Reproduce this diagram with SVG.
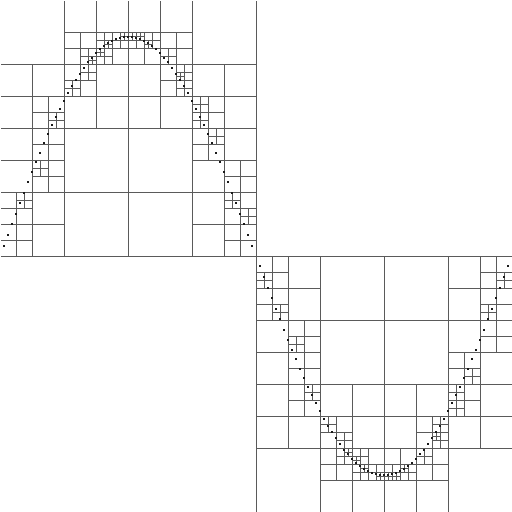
<svg xmlns="http://www.w3.org/2000/svg" width="512" height="512" viewBox="0 0 512 512">
<style>
.cell{fill:none;stroke:#5a5a5a;stroke-width:1;shape-rendering:crispEdges}
.pt{fill:#1a1a1a;shape-rendering:crispEdges}
</style>
<rect width="512" height="512" fill="#fff"/>
<g id="quadtree-cells" transform="translate(0.5,0.5)">
<path class="cell" d="M256 0V512 M0 256H512
M128 0V256 M0 128H256
M64 0V128 M0 64H128
M96 0V64 M64 32H128
M80 32V64 M64 48H96
M88 48V64 M80 56H96
M92 56V64 M88 60H96
M112 32V64 M96 48H128
M104 32V48 M96 40H112
M108 40V48 M104 44H112
M104 48V64 M96 56H112
M100 48V56 M96 52H104
M120 32V48 M112 40H128
M124 32V40 M120 36H128
M32 64V128 M0 96H64
M48 96V128 M32 112H64
M56 112V128 M48 120H64
M96 64V128 M64 96H128
M80 64V96 M64 80H96
M88 64V80 M80 72H96
M72 80V96 M64 88H80
M192 0V128 M128 64H256
M160 0V64 M128 32H192
M144 32V64 M128 48H160
M136 32V48 M128 40H144
M132 32V40 M128 36H136
M140 32V40 M136 36H144
M152 32V48 M144 40H160
M148 40V48 M144 44H152
M176 32V64 M160 48H192
M168 48V64 M160 56H176
M160 64V128 M128 96H192
M176 64V96 M160 80H192
M184 64V80 M176 72H192
M180 72V80 M176 76H184
M184 80V96 M176 88H192
M224 64V128 M192 96H256
M208 96V128 M192 112H224
M200 96V112 M192 104H208
M200 112V128 M192 120H208
M64 128V256 M0 192H128
M32 128V192 M0 160H64
M48 128V160 M32 144H64
M48 160V192 M32 176H64
M40 160V176 M32 168H48
M32 192V256 M0 224H64
M16 192V224 M0 208H32
M24 192V208 M16 200H32
M16 224V256 M0 240H32
M192 128V256 M128 192H256
M224 128V192 M192 160H256
M208 128V160 M192 144H224
M216 128V144 M208 136H224
M240 160V192 M224 176H256
M224 192V256 M192 224H256
M240 192V224 M224 208H256
M232 192V208 M224 200H240
M248 208V224 M240 216H256
M240 224V256 M224 240H256
M384 256V512 M256 384H512
M320 384V512 M256 448H384
M352 448V512 M320 480H384
M336 448V480 M320 464H352
M344 448V464 M336 456H352
M348 448V456 M344 452H352
M368 448V480 M352 464H384
M360 464V480 M352 472H368
M364 464V472 M360 468H368
M360 448V464 M352 456H368
M356 456V464 M352 460H360
M376 464V480 M368 472H384
M380 472V480 M376 476H384
M288 384V448 M256 416H320
M304 384V416 M288 400H320
M312 384V400 M304 392H320
M352 384V448 M320 416H384
M336 416V448 M320 432H352
M344 432V448 M336 440H352
M328 416V432 M320 424H336
M448 384V512 M384 448H512
M416 448V512 M384 480H448
M400 448V480 M384 464H416
M392 464V480 M384 472H400
M388 472V480 M384 476H392
M396 472V480 M392 476H400
M408 464V480 M400 472H416
M404 464V472 M400 468H408
M432 448V480 M416 464H448
M424 448V464 M416 456H432
M416 384V448 M384 416H448
M432 416V448 M416 432H448
M440 432V448 M432 440H448
M436 432V440 M432 436H440
M440 416V432 M432 424H448
M480 384V448 M448 416H512
M464 384V416 M448 400H480
M456 400V416 M448 408H464
M456 384V400 M448 392H464
M320 256V384 M256 320H384
M288 320V384 M256 352H320
M304 352V384 M288 368H320
M304 320V352 M288 336H320
M296 336V352 M288 344H304
M288 256V320 M256 288H320
M272 288V320 M256 304H288
M280 304V320 M272 312H288
M272 256V288 M256 272H288
M264 272V288 M256 280H272
M448 256V384 M384 320H512
M480 320V384 M448 352H512
M464 352V384 M448 368H480
M472 368V384 M464 376H480
M496 320V352 M480 336H512
M480 256V320 M448 288H512
M496 288V320 M480 304H512
M488 304V320 M480 312H496
M504 272V288 M496 280H512
M496 256V288 M480 272H512"/>
</g>
<g id="points">
<rect class="pt" x="3" y="245" width="2" height="2"/><rect class="pt" x="7" y="234" width="2" height="2"/><rect class="pt" x="11" y="223" width="2" height="2"/><rect class="pt" x="15" y="213" width="2" height="2"/><rect class="pt" x="19" y="202" width="2" height="2"/><rect class="pt" x="23" y="192" width="2" height="2"/><rect class="pt" x="27" y="181" width="2" height="2"/><rect class="pt" x="31" y="171" width="2" height="2"/><rect class="pt" x="35" y="161" width="2" height="2"/><rect class="pt" x="39" y="152" width="2" height="2"/><rect class="pt" x="43" y="142" width="2" height="2"/><rect class="pt" x="47" y="133" width="2" height="2"/><rect class="pt" x="51" y="124" width="2" height="2"/><rect class="pt" x="55" y="116" width="2" height="2"/><rect class="pt" x="59" y="108" width="2" height="2"/><rect class="pt" x="63" y="100" width="2" height="2"/>
<rect class="pt" x="67" y="92" width="2" height="2"/><rect class="pt" x="71" y="85" width="2" height="2"/><rect class="pt" x="75" y="79" width="2" height="2"/><rect class="pt" x="79" y="73" width="2" height="2"/><rect class="pt" x="83" y="67" width="2" height="2"/><rect class="pt" x="87" y="61" width="2" height="2"/><rect class="pt" x="91" y="57" width="2" height="2"/><rect class="pt" x="95" y="52" width="2" height="2"/><rect class="pt" x="99" y="48" width="2" height="2"/><rect class="pt" x="103" y="45" width="2" height="2"/><rect class="pt" x="107" y="42" width="2" height="2"/><rect class="pt" x="111" y="40" width="2" height="2"/><rect class="pt" x="115" y="38" width="2" height="2"/><rect class="pt" x="119" y="37" width="2" height="2"/><rect class="pt" x="123" y="36" width="2" height="2"/><rect class="pt" x="127" y="36" width="2" height="2"/>
<rect class="pt" x="131" y="36" width="2" height="2"/><rect class="pt" x="135" y="37" width="2" height="2"/><rect class="pt" x="139" y="38" width="2" height="2"/><rect class="pt" x="143" y="40" width="2" height="2"/><rect class="pt" x="147" y="42" width="2" height="2"/><rect class="pt" x="151" y="45" width="2" height="2"/><rect class="pt" x="155" y="48" width="2" height="2"/><rect class="pt" x="159" y="52" width="2" height="2"/><rect class="pt" x="163" y="57" width="2" height="2"/><rect class="pt" x="167" y="61" width="2" height="2"/><rect class="pt" x="171" y="67" width="2" height="2"/><rect class="pt" x="175" y="73" width="2" height="2"/><rect class="pt" x="179" y="79" width="2" height="2"/><rect class="pt" x="183" y="85" width="2" height="2"/><rect class="pt" x="187" y="92" width="2" height="2"/><rect class="pt" x="191" y="100" width="2" height="2"/>
<rect class="pt" x="195" y="108" width="2" height="2"/><rect class="pt" x="199" y="116" width="2" height="2"/><rect class="pt" x="203" y="124" width="2" height="2"/><rect class="pt" x="207" y="133" width="2" height="2"/><rect class="pt" x="211" y="142" width="2" height="2"/><rect class="pt" x="215" y="152" width="2" height="2"/><rect class="pt" x="219" y="161" width="2" height="2"/><rect class="pt" x="223" y="171" width="2" height="2"/><rect class="pt" x="227" y="181" width="2" height="2"/><rect class="pt" x="231" y="192" width="2" height="2"/><rect class="pt" x="235" y="202" width="2" height="2"/><rect class="pt" x="239" y="213" width="2" height="2"/><rect class="pt" x="243" y="223" width="2" height="2"/><rect class="pt" x="247" y="234" width="2" height="2"/><rect class="pt" x="251" y="245" width="2" height="2"/>
<rect class="pt" x="259" y="265" width="2" height="2"/><rect class="pt" x="263" y="276" width="2" height="2"/><rect class="pt" x="267" y="287" width="2" height="2"/><rect class="pt" x="271" y="297" width="2" height="2"/><rect class="pt" x="275" y="308" width="2" height="2"/><rect class="pt" x="279" y="318" width="2" height="2"/><rect class="pt" x="283" y="329" width="2" height="2"/><rect class="pt" x="287" y="339" width="2" height="2"/><rect class="pt" x="291" y="349" width="2" height="2"/><rect class="pt" x="295" y="358" width="2" height="2"/><rect class="pt" x="299" y="368" width="2" height="2"/><rect class="pt" x="303" y="377" width="2" height="2"/><rect class="pt" x="307" y="386" width="2" height="2"/><rect class="pt" x="311" y="394" width="2" height="2"/><rect class="pt" x="315" y="402" width="2" height="2"/><rect class="pt" x="319" y="410" width="2" height="2"/>
<rect class="pt" x="323" y="418" width="2" height="2"/><rect class="pt" x="327" y="425" width="2" height="2"/><rect class="pt" x="331" y="431" width="2" height="2"/><rect class="pt" x="335" y="437" width="2" height="2"/><rect class="pt" x="339" y="443" width="2" height="2"/><rect class="pt" x="343" y="449" width="2" height="2"/><rect class="pt" x="347" y="453" width="2" height="2"/><rect class="pt" x="351" y="458" width="2" height="2"/><rect class="pt" x="355" y="462" width="2" height="2"/><rect class="pt" x="359" y="465" width="2" height="2"/><rect class="pt" x="363" y="468" width="2" height="2"/><rect class="pt" x="367" y="470" width="2" height="2"/><rect class="pt" x="371" y="472" width="2" height="2"/><rect class="pt" x="375" y="473" width="2" height="2"/><rect class="pt" x="379" y="474" width="2" height="2"/><rect class="pt" x="383" y="474" width="2" height="2"/>
<rect class="pt" x="387" y="474" width="2" height="2"/><rect class="pt" x="391" y="473" width="2" height="2"/><rect class="pt" x="395" y="472" width="2" height="2"/><rect class="pt" x="399" y="470" width="2" height="2"/><rect class="pt" x="403" y="468" width="2" height="2"/><rect class="pt" x="407" y="465" width="2" height="2"/><rect class="pt" x="411" y="462" width="2" height="2"/><rect class="pt" x="415" y="458" width="2" height="2"/><rect class="pt" x="419" y="453" width="2" height="2"/><rect class="pt" x="423" y="449" width="2" height="2"/><rect class="pt" x="427" y="443" width="2" height="2"/><rect class="pt" x="431" y="437" width="2" height="2"/><rect class="pt" x="435" y="431" width="2" height="2"/><rect class="pt" x="439" y="425" width="2" height="2"/><rect class="pt" x="443" y="418" width="2" height="2"/><rect class="pt" x="447" y="410" width="2" height="2"/>
<rect class="pt" x="451" y="402" width="2" height="2"/><rect class="pt" x="455" y="394" width="2" height="2"/><rect class="pt" x="459" y="386" width="2" height="2"/><rect class="pt" x="463" y="377" width="2" height="2"/><rect class="pt" x="467" y="368" width="2" height="2"/><rect class="pt" x="471" y="358" width="2" height="2"/><rect class="pt" x="475" y="349" width="2" height="2"/><rect class="pt" x="479" y="339" width="2" height="2"/><rect class="pt" x="483" y="329" width="2" height="2"/><rect class="pt" x="487" y="318" width="2" height="2"/><rect class="pt" x="491" y="308" width="2" height="2"/><rect class="pt" x="495" y="297" width="2" height="2"/><rect class="pt" x="499" y="287" width="2" height="2"/><rect class="pt" x="503" y="276" width="2" height="2"/><rect class="pt" x="507" y="265" width="2" height="2"/>
</g>
</svg>
